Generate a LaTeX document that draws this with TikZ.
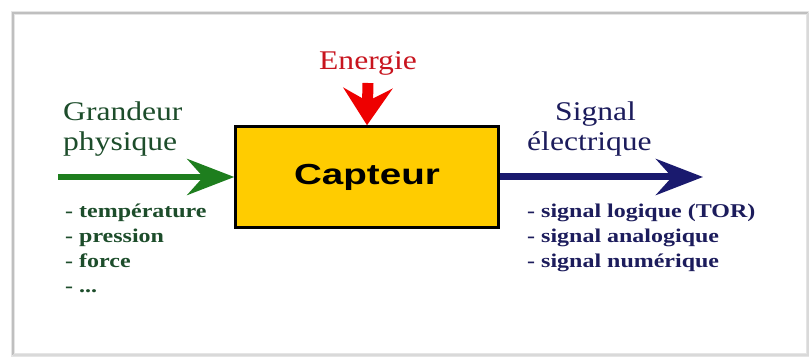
\documentclass[tikz,border=0pt]{standalone}
\usepackage{fontspec}
\setmainfont{Liberation Serif}
\newfontfamily\titlefont[FakeStretch=1.17]{Liberation Serif}
\newfontfamily\listfont[FakeStretch=1.23]{Liberation Serif}
\newfontfamily\capfont[FakeStretch=1.33]{Liberation Sans}
\usetikzlibrary{arrows.meta}
\definecolor{txtgreen}{HTML}{1D4D2B}
\definecolor{txtblue}{HTML}{1C1C5C}
\definecolor{txtred}{HTML}{C8141E}
\definecolor{arrgreen}{HTML}{1E7E1E}
\definecolor{arrblue}{HTML}{1A1A6E}
\definecolor{arrred}{HTML}{EE0000}
\definecolor{boxyellow}{HTML}{FFCC00}
\tikzset{
  title/.style={anchor=base west, inner sep=0pt, font=\titlefont\fontsize{27}{31}\selectfont},
  item/.style={anchor=base west, inner sep=0pt, font=\listfont\bfseries\fontsize{19.5}{23}\selectfont},
  bigarrow/.style={line width=6.5pt, -{Stealth[length=47pt,width=36pt,inset=16pt]}},
}
\begin{document}
\begin{tikzpicture}[x=1pt,y=-1pt]
\useasboundingbox (0,0) rectangle (809,358);
\fill[white] (0,0) rectangle (809,358);
% frame shadow
\draw[gray!20, line width=4pt] (13,13) rectangle (808,355);
\draw[gray!50, line width=1.5pt] (13,355) -- (13,13) -- (808,13);
\draw[gray!30, line width=1.5pt] (13,355) -- (808,355) -- (808,13);
\fill[white] (15,15) rectangle (806,353);

% box
\node[draw=black, line width=2.5pt, fill=boxyellow, minimum width=263pt, minimum height=101pt,
      inner sep=0pt, font=\capfont\bfseries\fontsize{29}{34}\selectfont] (cap) at (367,177) {Capteur};

% coordinates
\coordinate (gin) at (58,177);
\coordinate (sout) at (703,177);
\coordinate (ein) at (368,83);

% arrows
\draw[bigarrow, arrgreen] (gin) -- (cap.west);
\draw[bigarrow, arrblue, line width=7pt] (cap.east) -- (sout);
\draw[arrred, line width=11pt, -{Stealth[length=37pt,width=49pt,inset=13pt]}] (ein) -- (cap.north);

% texts
\node[title, text=txtred, anchor=base] (en) at (368,70) {Energie};
\node[title, text=txtgreen] (g1) at (63,121) {Grandeur};
\node[title, text=txtgreen] (g2) at (63,151) {physique};
\node[title, text=txtblue] (s1) at (555,121) {Signal};
\node[title, text=txtblue] (s2) at (527,151) {électrique};

\node[item, text=txtgreen] (l1) at (65,218) {- température};
\node[item, text=txtgreen] (l2) at (65,243) {- pression};
\node[item, text=txtgreen] (l3) at (65,268) {- force};
\node[item, text=txtgreen] (l4) at (65,293) {- ...};

\node[item, text=txtblue] (r1) at (527,218) {- signal logique (TOR)};
\node[item, text=txtblue] (r2) at (527,243) {- signal analogique};
\node[item, text=txtblue] (r3) at (527,268) {- signal numérique};
\end{tikzpicture}
\end{document}
